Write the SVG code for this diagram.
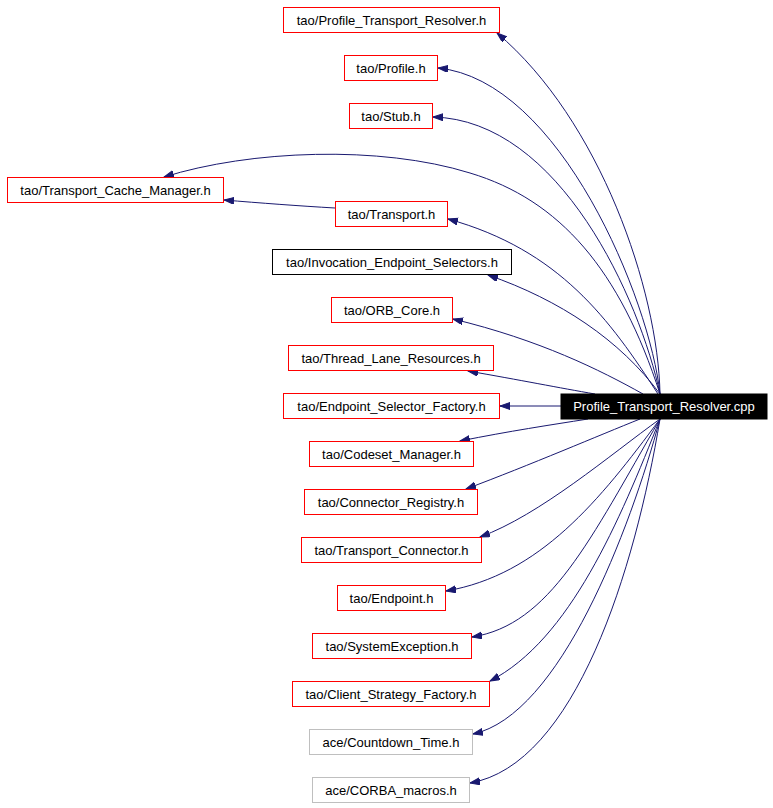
<svg xmlns="http://www.w3.org/2000/svg" width="773" height="808" viewBox="0 0 773 808">
<style>
.n rect{fill:#fff;stroke:#ff0000;stroke-width:1}
.n.k rect{stroke:#000}
.n.g rect{stroke:#bfbfbf}
.n.c rect{fill:#000;stroke:#000}
.n text{font-family:"Liberation Sans",Arial,sans-serif;font-size:13px;text-anchor:middle;fill:#000}
.n.c text{fill:#fff}
#edges path{fill:none;stroke:#191970;stroke-width:1;marker-end:url(#ah)}
</style>
<defs>
<marker id="ah" markerUnits="userSpaceOnUse" markerWidth="11" markerHeight="8" refX="10" refY="3.5" orient="auto">
<path d="M0,0 L10,3.5 L0,7 z" fill="#191970" stroke="#191970" stroke-width="1"/>
</marker>
</defs>
<rect width="773" height="808" fill="#fff"/>
<g id="edges">
<path d="M660,394 C658,290 600,120 497,33"/>
<path d="M660,394 C650,300 560,80 438,68"/>
<path d="M660,394 C640,300 560,120 433,117"/>
<path d="M660,394 C620,270 560,200 470,173 C380,145 250,150 164,177"/>
<path d="M658,394 C610,320 560,250 448,219"/>
<path d="M335,208 C300,206 260,203 224,200"/>
<path d="M660,394 C620,340 560,300 488,275"/>
<path d="M643,394 C600,370 540,340 453,319"/>
<path d="M595,394 C560,388 520,380 468,371"/>
<path d="M561,406 L500,406"/>
<path d="M588,419 C550,425 510,431 460,441"/>
<path d="M640,419 C600,435 530,465 466,489"/>
<path d="M660,419 C610,455 540,515 480,537"/>
<path d="M660,419 C600,500 540,575 446,591"/>
<path d="M660,419 C590,540 550,625 472,637"/>
<path d="M660,419 C620,520 570,640 490,681"/>
<path d="M660,419 C630,530 560,715 473,734"/>
<path d="M660,419 C635,570 575,765 470,783"/>
</g>
<g id="n1" class="n"><rect x="283.5" y="7.5" width="216" height="25"/><text x="391.5" y="24.5">tao/Profile_Transport_Resolver.h</text></g>
<g id="n2" class="n"><rect x="344.5" y="55.5" width="93" height="25"/><text x="391" y="72.5">tao/Profile.h</text></g>
<g id="n3" class="n"><rect x="349.5" y="103.5" width="83" height="25"/><text x="391" y="120.5">tao/Stub.h</text></g>
<g id="n4" class="n"><rect x="7.5" y="177.5" width="216" height="25"/><text x="115.5" y="194.5">tao/Transport_Cache_Manager.h</text></g>
<g id="n5" class="n"><rect x="335.5" y="201.5" width="112" height="25"/><text x="391.5" y="218.5">tao/Transport.h</text></g>
<g id="n6" class="n k"><rect x="272.5" y="249.5" width="239" height="25"/><text x="392" y="266.5">tao/Invocation_Endpoint_Selectors.h</text></g>
<g id="n7" class="n"><rect x="331.5" y="297.5" width="121" height="25"/><text x="392" y="314.5">tao/ORB_Core.h</text></g>
<g id="n8" class="n"><rect x="288.5" y="345.5" width="205" height="25"/><text x="391" y="362.5">tao/Thread_Lane_Resources.h</text></g>
<g id="n9" class="n"><rect x="283.5" y="393.5" width="216" height="25"/><text x="391.5" y="410.5">tao/Endpoint_Selector_Factory.h</text></g>
<g id="n0" class="n c"><rect x="561" y="394" width="206" height="25"/><text x="664" y="411">Profile_Transport_Resolver.cpp</text></g>
<g id="n10" class="n"><rect x="309.5" y="441.5" width="164" height="25"/><text x="391.5" y="458.5">tao/Codeset_Manager.h</text></g>
<g id="n11" class="n"><rect x="304.5" y="489.5" width="173" height="25"/><text x="391" y="506.5">tao/Connector_Registry.h</text></g>
<g id="n12" class="n"><rect x="301.5" y="537.5" width="180" height="25"/><text x="391.5" y="554.5">tao/Transport_Connector.h</text></g>
<g id="n13" class="n"><rect x="337.5" y="585.5" width="108" height="25"/><text x="391.5" y="602.5">tao/Endpoint.h</text></g>
<g id="n14" class="n"><rect x="312.5" y="633.5" width="159" height="25"/><text x="392" y="650.5">tao/SystemException.h</text></g>
<g id="n15" class="n"><rect x="292.5" y="681.5" width="197" height="25"/><text x="391" y="698.5">tao/Client_Strategy_Factory.h</text></g>
<g id="n16" class="n g"><rect x="309.5" y="729.5" width="163" height="25"/><text x="391" y="746.5">ace/Countdown_Time.h</text></g>
<g id="n17" class="n g"><rect x="312.5" y="777.5" width="157" height="25"/><text x="391" y="794.5">ace/CORBA_macros.h</text></g>
</svg>
